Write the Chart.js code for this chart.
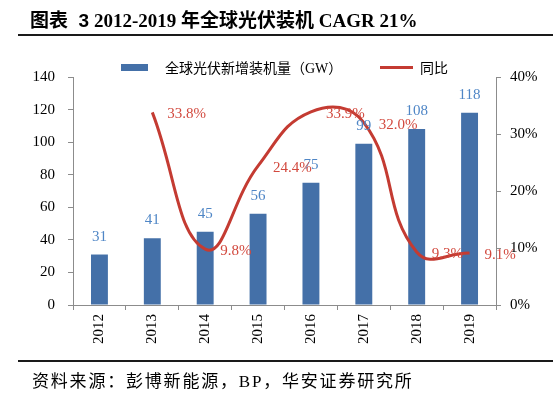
<!DOCTYPE html>
<html>
<head>
<meta charset="utf-8">
<script src="https://cdn.jsdelivr.net/npm/chart.js@4.4.1/dist/chart.umd.min.js"></script>
<style>
  html, body { margin: 0; padding: 0; background: #fff; }
  #wrap { position: relative; width: 554px; height: 396px; overflow: hidden; }
  #c { position: absolute; left: 0; top: 0; }
  .txt { position: absolute; white-space: nowrap; font-family: "Liberation Serif", "Noto Sans CJK SC", serif; color: #000; }
  #title { left: 30px; top: 5px; font-size: 19px; font-weight: bold; }
  #title .sans { font-family: "Liberation Sans", "Noto Sans CJK SC", sans-serif; }
  #tline { position: absolute; left: 18px; top: 34px; width: 535px; height: 2px; background: #1a1a1a; }
  #fline { position: absolute; left: 18px; top: 360px; width: 535px; height: 2px; background: #1a1a1a; }
  #footer { left: 32px; top: 367px; font-size: 17px; letter-spacing: 1.8px; }
  .lg { font-size: 14px; top: 57px; }
  #lgbox { position: absolute; left: 121px; top: 64px; width: 27px; height: 7px; background: #4470A8; }
  #lgline { position: absolute; left: 380px; top: 66px; width: 33px; height: 3px; background: #C43B32; }
</style>
</head>
<body>
<div id="wrap">
  <canvas id="c" width="554" height="396"></canvas>
  <div id="title" class="txt"><span class="sans">图表&nbsp; 3</span> 2012-2019 年全球光伏装机 CAGR 21%</div>
  <div id="tline"></div>
  <div id="lgbox"></div>
  <div class="txt lg" style="left:165px;">全球光伏新增装机量（GW）</div>
  <div id="lgline"></div>
  <div class="txt lg" style="left:420px;">同比</div>
  <div id="fline"></div>
  <div id="footer" class="txt">资料来源：彭博新能源，BP，华安证券研究所</div>
</div>
<script>
const years = ['2012', '2013', '2014', '2015', '2016', '2017', '2018', '2019'];
const installs = [31, 41, 45, 56, 75, 99, 108, 118];
const growth = [null, 33.8, 9.8, 24.4, 33.9, 32.0, 9.3, 9.1];
const leftTicks = [0, 20, 40, 60, 80, 100, 120, 140];
const rightTicks = [0, 10, 20, 30, 40];

const BAR_COLOR = '#4470A8';
const BAR_LABEL = '#4F86C6';
const LINE_COLOR = '#C43B32';
const LINE_LABEL = '#D2493E';
const AXIS = '#8c8c8c';
const SERIF = '"Liberation Serif", "Times New Roman", serif';

const labelPlugin = {
  id: 'valueLabels',
  afterDatasetsDraw(chart) {
    const ctx = chart.ctx;
    ctx.save();
    ctx.font = '15px ' + SERIF;
    const barMeta = chart.getDatasetMeta(1);
    ctx.fillStyle = BAR_LABEL;
    ctx.textAlign = 'center';
    ctx.textBaseline = 'alphabetic';
    barMeta.data.forEach((el, i) => {
      ctx.fillText(String(installs[i]), el.x, el.y - 14);
    });
    const lineMeta = chart.getDatasetMeta(0);
    ctx.fillStyle = LINE_LABEL;
    ctx.textAlign = 'left';
    ctx.textBaseline = 'middle';
    lineMeta.data.forEach((el, i) => {
      if (growth[i] === null) return;
      ctx.fillText(growth[i].toFixed(1) + '%', el.x + 15, el.y + 2);
    });
    ctx.restore();
  }
};

new Chart(document.getElementById('c'), {
  type: 'bar',
  data: {
    labels: years,
    datasets: [
      {
        type: 'line',
        label: '同比',
        data: growth,
        yAxisID: 'y1',
        borderColor: LINE_COLOR,
        borderWidth: 3,
        pointRadius: 0,
        tension: 0.45,
        fill: false,
        order: 0
      },
      {
        type: 'bar',
        label: '全球光伏新增装机量（GW）',
        data: installs,
        yAxisID: 'y',
        backgroundColor: BAR_COLOR,
        barPercentage: 0.32,
        categoryPercentage: 1.0,
        order: 1
      }
    ]
  },
  options: {
    responsive: false,
    animation: false,
    devicePixelRatio: 1,
    layout: { padding: { top: 77, left: 0, right: 0, bottom: 0 } },
    plugins: { legend: { display: false }, tooltip: { enabled: false }, title: { display: false } },
    scales: {
      x: {
        offset: true,
        grid: { display: true, drawOnChartArea: false, drawTicks: true, tickLength: 5, color: AXIS, offset: true },
        border: { display: true, color: AXIS, width: 1 },
        ticks: { minRotation: 90, maxRotation: 90, color: '#000', font: { family: SERIF, size: 15 }, padding: 4 },
        afterFit(s) { s.height = 91; }
      },
      y: {
        position: 'left',
        min: 0, max: 140,
        afterBuildTicks(s) { s.ticks = leftTicks.map(v => ({ value: v })); },
        grid: { display: true, drawOnChartArea: false, drawTicks: true, tickLength: 5, color: AXIS },
        border: { display: true, color: AXIS, width: 1 },
        ticks: { color: '#000', font: { family: SERIF, size: 15 }, padding: 13 },
        afterFit(s) { s.width = 73; }
      },
      y1: {
        position: 'right',
        min: 0, max: 40,
        afterBuildTicks(s) { s.ticks = rightTicks.map(v => ({ value: v })); },
        grid: { display: true, drawOnChartArea: false, drawTicks: true, tickLength: 5, color: AXIS },
        border: { display: true, color: AXIS, width: 1 },
        ticks: { color: '#000', font: { family: SERIF, size: 15 }, padding: 9, callback: v => v + '%' },
        afterFit(s) { s.width = 58; }
      }
    }
  },
  plugins: [labelPlugin]
});
</script>
</body>
</html>
